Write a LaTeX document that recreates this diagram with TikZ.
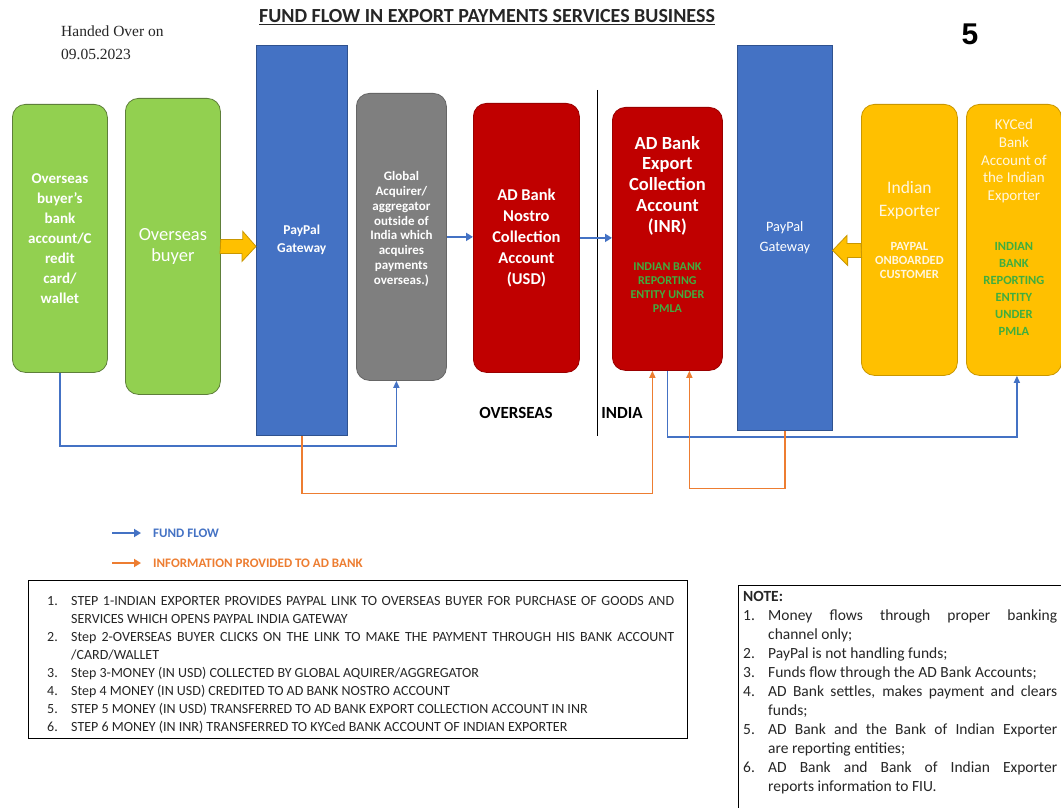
\documentclass[tikz,border=0pt]{standalone}
\usepackage{fontspec}
\setmainfont{Carlito}
\newfontfamily\handfont{Liberation Serif}
\newfontfamily\digitfont{Liberation Sans}
\usetikzlibrary{positioning,arrows.meta,calc}
\definecolor{leaf}{HTML}{92D050}
\definecolor{leafline}{HTML}{5E7F3A}
\definecolor{gatewayblue}{HTML}{4472C4}
\definecolor{gatewayline}{HTML}{2F528F}
\definecolor{acqgrey}{HTML}{7F7F7F}
\definecolor{bankred}{HTML}{C00000}
\definecolor{bankline}{HTML}{9A0000}
\definecolor{amber}{HTML}{FFC000}
\definecolor{amberline}{HTML}{C99700}
\definecolor{fundblue}{HTML}{4472C4}
\definecolor{infoorange}{HTML}{ED7D31}
\definecolor{pmlagreen}{HTML}{3FAE3F}
\definecolor{cream}{HTML}{FFF6DE}
\definecolor{ink}{HTML}{262626}
\newcommand{\fsz}[2]{\fontsize{#1}{#2}\selectfont}
\newcommand{\stepitem}[3]{\par\hangindent=#1\hangafter=1\noindent\makebox[#1][l]{#2}#3}
\tikzset{
  box/.style={anchor=north west, rounded corners=13pt, line width=0.8pt,
    align=center, text=white, inner sep=0pt},
  greenbox/.style={box, fill=leaf, draw=leafline},
  gatebox/.style={anchor=north west, fill=gatewayblue, draw=gatewayline,
    line width=0.6pt, align=center, text=white, inner sep=0pt},
  greybox/.style={box, fill=acqgrey, draw=acqgrey!80!black},
  redbox/.style={box, fill=bankred, draw=bankline},
  amberbox/.style={box, fill=amber, draw=amberline},
  boxtext/.style={align=center, inner sep=0pt, anchor=north},
  fund/.style={draw=fundblue, line width=1.4pt, -{Triangle[length=7pt,width=6pt]}},
  fundthick/.style={draw=fundblue, line width=2.6pt, -{Triangle[length=7pt,width=8pt]}},
  info/.style={draw=infoorange, line width=1.4pt, -{Triangle[length=7pt,width=6pt]}},
  infothick/.style={draw=infoorange, line width=2.6pt, -{Triangle[length=7pt,width=8pt]}},
  blockarrow/.style={fill=amber, draw=amberline, line width=0.8pt, line join=miter},
  region/.style={font=\bfseries\fsz{17}{20}, text=black, inner sep=0pt},
  legend/.style={font=\bfseries\fsz{13}{15}, anchor=west, inner sep=0pt},
  frame/.style={draw=black, line width=0.8pt}
}
\begin{document}
\begin{tikzpicture}[x=1pt, y=-1pt]
  \fill[white] (0,0) rectangle (1061,808);
  \useasboundingbox (0,0) rectangle (1061,808);

  % header
  \node[font=\handfont\fsz{15.5}{23}, anchor=west, align=left, text=ink, inner sep=0pt]
    (handed) at (61,43) {Handed Over on\\09.05.2023};
  \node[font=\bfseries\fsz{20}{22}, text=ink, inner sep=0pt] (title) at (487,17)
    {\underline{FUND FLOW IN EXPORT PAYMENTS SERVICES BUSINESS}};
  \node[font=\digitfont\bfseries\fsz{30}{30}, inner sep=0pt] (pageno) at (970,34) {5};

  % overseas side
  \node[greenbox, minimum width=95pt, minimum height=268pt, font=\bfseries\fsz{15}{20}]
    (ovacct) at (12,104) {Overseas\\buyer's\\bank\\account/C\\redit\\card/\\wallet};
  \node[greenbox, minimum width=95pt, minimum height=296pt, font=\fsz{18.5}{21}]
    (buyer) at (125,98) {Overseas\\buyer};
  \node[gatebox, minimum width=91pt, minimum height=390pt, font=\bfseries\fsz{13.5}{18}]
    (pp1) at (256,45) {PayPal\\Gateway};
  \node[greybox, minimum width=90pt, minimum height=287pt] (acq) at (356,93) {};
  \node[boxtext, anchor=center, text=white, font=\bfseries\fsz{13}{14.8}]
    (acqtxt) at ([yshift=8pt]acq.center)
    {Global\\Acquirer/\\aggregator\\outside of\\India which\\acquires\\payments\\overseas.)};
  \node[redbox, minimum width=106pt, minimum height=269pt, font=\bfseries\fsz{16.5}{21}]
    (nostro) at (473,103) {AD Bank\\Nostro\\Collection\\Account\\(USD)};

  % india side
  \node[redbox, minimum width=110pt, minimum height=263pt] (expcoll) at (612,107) {};
  \node[boxtext, text=white, font=\bfseries\fsz{18.5}{20.8}] (expcolltxt)
    at ([yshift=-29pt]expcoll.north) {AD Bank\\Export\\Collection\\Account\\(INR)};
  \node[boxtext, text=pmlagreen, font=\bfseries\fsz{12}{14}] (expcollpmla)
    at ([yshift=-156pt]expcoll.north) {INDIAN BANK\\REPORTING\\ENTITY UNDER\\PMLA};
  \node[gatebox, minimum width=95pt, minimum height=385pt, font=\fsz{14.3}{20}]
    (pp2) at (737,45) {PayPal\\Gateway};
  \node[amberbox, minimum width=96pt, minimum height=271pt] (exporter) at (861,104) {};
  \node[boxtext, text=cream, font=\fsz{17.5}{23}] (exportertxt)
    at ([yshift=-77pt]exporter.north) {Indian\\Exporter};
  \node[boxtext, text=cream, font=\bfseries\fsz{12.5}{14}] (exportertag)
    at ([yshift=-138pt]exporter.north) {PAYPAL\\ONBOARDED\\CUSTOMER};
  \node[amberbox, minimum width=95pt, minimum height=271pt] (kyc) at (966,104) {};
  \node[boxtext, text=cream, font=\fsz{15}{17.7}] (kyctxt)
    at ([yshift=-15pt]kyc.north) {KYCed\\Bank\\Account of\\the Indian\\Exporter};
  \node[boxtext, text=pmlagreen, font=\bfseries\fsz{12.5}{17}] (kycpmla)
    at ([yshift=-138pt]kyc.north) {INDIAN\\BANK\\REPORTING\\ENTITY\\UNDER\\PMLA};

  % border between overseas and india
  \draw[line width=0.9pt] (597,90) -- (597,436);
  \node[region] (overseas) at (516,413) {OVERSEAS};
  \node[region] (india) at (622,413) {INDIA};

  % block arrows
  \filldraw[blockarrow] ($(buyer.east)+(0,-7)$) -- ++(22,0) -- ++(0,-8)
    -- (buyer.east -| pp1.west) -- ++(-14,15) -- ++(0,-8) -- ++(-22,0) -- cycle;
  \filldraw[blockarrow] ($([yshift=-10.5pt]exporter.west)+(0,-7)$) -- ++(-14,0) -- ++(0,-8)
    -- ([yshift=-10.5pt]exporter.west -| pp2.east) -- ++(15,15) -- ++(0,-8) -- ++(14,0) -- cycle;

  % fund flow
  \draw[fundthick] (acq.east) -- (acq.east -| nostro.west);
  \draw[fundthick] (nostro.east) -- (nostro.east -| expcoll.west);
  \draw[fund] (ovacct.south) -- ++(0,73) -| ([xshift=-5pt]acq.south);
  \draw[fund] (expcoll.south) -- ++(0,66) -| ([xshift=3pt]kyc.south);

  % information to AD bank
  \draw[info] (pp1.south) -- ++(0,58) -| ([xshift=-15pt]expcoll.south);
  \draw[info] (pp2.south) -- ++(0,58) -| ([xshift=22pt]expcoll.south);

  % legend
  \coordinate (fundtail) at (112,533);
  \node[legend, text=fundblue] (fundkey) at (153,533) {FUND FLOW};
  \draw[fundthick] (fundtail) -- ([xshift=-12pt]fundkey.west);
  \coordinate (infotail) at (112,563);
  \node[legend, text=infoorange] (infokey) at (153,563) {INFORMATION PROVIDED TO AD BANK};
  \draw[infothick] (infotail) -- ([xshift=-12pt]infokey.west);

  % steps
  \node[frame, anchor=north west, minimum width=659pt, minimum height=158pt, inner sep=0pt]
    (stepbox) at (28,580) {};
  \node[anchor=north west, text width=627pt, align=justify, inner sep=0pt,
    font=\fsz{14}{18}, text=ink] (steplist) at (47,587) {%
    \stepitem{24pt}{1.}{STEP 1-INDIAN EXPORTER PROVIDES PAYPAL LINK TO OVERSEAS BUYER FOR PURCHASE OF GOODS AND\linebreak SERVICES WHICH OPENS PAYPAL INDIA GATEWAY}
    \stepitem{24pt}{2.}{Step 2-OVERSEAS BUYER CLICKS ON THE LINK TO MAKE THE PAYMENT THROUGH HIS BANK ACCOUNT\linebreak /CARD/WALLET}
    \stepitem{24pt}{3.}{Step 3-MONEY (IN USD) COLLECTED BY GLOBAL AQUIRER/AGGREGATOR}
    \stepitem{24pt}{4.}{Step 4 MONEY (IN USD) CREDITED TO AD BANK NOSTRO ACCOUNT}
    \stepitem{24pt}{5.}{STEP 5 MONEY (IN USD) TRANSFERRED TO AD BANK EXPORT COLLECTION ACCOUNT IN INR}
    \stepitem{24pt}{6.}{STEP 6 MONEY (IN INR) TRANSFERRED TO KYCed BANK ACCOUNT OF INDIAN EXPORTER}\par};

  % notes
  \draw[frame] (1061,585) -- (738,585) -- (738,808);
  \node[anchor=north west, text width=314pt, align=justify, inner sep=0pt,
    font=\fsz{15.5}{19}, text=ink] (notelist) at (743,591) {%
    \noindent{\bfseries NOTE:}
    \stepitem{25pt}{1.}{Money flows through proper banking\linebreak channel only;}
    \stepitem{25pt}{2.}{PayPal is not handling funds;}
    \stepitem{25pt}{3.}{Funds flow through the AD Bank Accounts;}
    \stepitem{25pt}{4.}{AD Bank settles, makes payment and clears\linebreak funds;}
    \stepitem{25pt}{5.}{AD Bank and the Bank of Indian Exporter\linebreak are reporting entities;}
    \stepitem{25pt}{6.}{AD Bank and Bank of Indian Exporter\linebreak reports information to FIU.}\par};
\end{tikzpicture}
\end{document}
